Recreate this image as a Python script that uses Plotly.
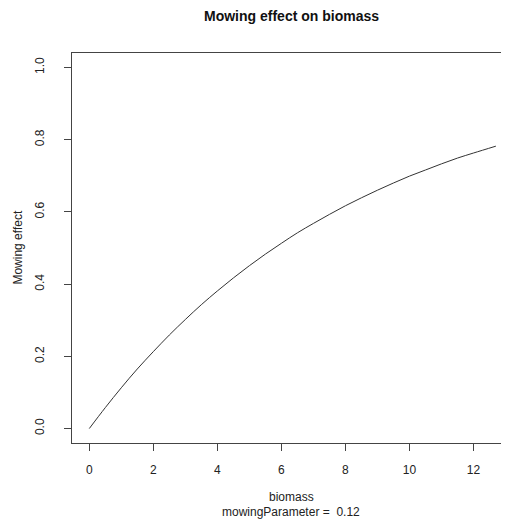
"""
Mowing effect on biomass - line chart
"""

import plotly.graph_objects as go

# values
biomass = [0, 0.5, 1, 1.5, 2, 2.5, 3, 3.5, 4, 4.5, 5, 5.5, 6, 6.5, 7, 7.5,
           8, 8.5, 9, 9.5, 10, 10.5, 11, 11.5, 12, 12.7]
mowing_effect = [0.0, 0.058, 0.113, 0.165, 0.213, 0.259, 0.302, 0.343, 0.381,
                 0.417, 0.451, 0.483, 0.513, 0.542, 0.568, 0.593, 0.617,
                 0.639, 0.660, 0.680, 0.699, 0.716, 0.733, 0.749, 0.763, 0.782]
x_ticks = [0, 2, 4, 6, 8, 10, 12]
y_ticks = [0.0, 0.2, 0.4, 0.6, 0.8, 1.0]

title = "Mowing effect on biomass"
x_label = "biomass"
sub_label = "mowingParameter =  0.12"
y_label = "Mowing effect"

font_family = "Liberation Sans, Arial, Helvetica, sans-serif"
axis_col = "#444444"

# the page body has an 8px margin, so the figure is shrunk by that much
fig = go.Figure()

fig.add_trace(go.Scatter(
    x=biomass,
    y=mowing_effect,
    mode="lines",
    line=dict(color="#333333", width=1, shape="spline"),
    showlegend=False,
    hoverinfo="skip"
))

fig.update_layout(
    width=501,
    height=516,
    margin=dict(l=63.5, r=0, t=45, b=81),
    paper_bgcolor="white",
    plot_bgcolor="white",
    font=dict(family=font_family, size=12, color="#222222"),
    showlegend=False
)

fig.update_xaxes(
    range=[-0.54, 13.11],
    tickvals=x_ticks,
    ticktext=[str(t) for t in x_ticks],
    ticks="outside",
    ticklen=7,
    tickwidth=1,
    tickcolor=axis_col,
    ticklabelstandoff=9,
    showline=True,
    linecolor=axis_col,
    linewidth=1,
    mirror=True,
    showgrid=False,
    zeroline=False,
    tickfont=dict(size=12)
)

fig.update_yaxes(
    range=[-0.04, 1.04],
    tickvals=y_ticks,
    ticktext=["%.1f" % t for t in y_ticks],
    tickangle=-90,
    ticks="outside",
    ticklen=7,
    tickwidth=1,
    tickcolor=axis_col,
    ticklabelstandoff=15,
    showline=True,
    linecolor=axis_col,
    linewidth=1,
    mirror=False,
    showgrid=False,
    zeroline=False,
    tickfont=dict(size=12)
)

# title and axis labels placed in R base-graphics style (paper coords)
cx = (291 - 71.5) / 437.5
fig.add_annotation(text="<b>%s</b>" % title, xref="paper", yref="paper",
                   x=cx, y=(443 - 16) / 390,
                   xanchor="center", yanchor="middle", showarrow=False,
                   font=dict(size=14, color="#111111"))
fig.add_annotation(text=x_label, xref="paper", yref="paper",
                   x=cx, y=-(497 - 443) / 390,
                   xanchor="center", yanchor="middle", showarrow=False,
                   font=dict(size=12))
fig.add_annotation(text=sub_label, xref="paper", yref="paper",
                   x=cx, y=-(512 - 443) / 390,
                   xanchor="center", yanchor="middle", showarrow=False,
                   font=dict(size=12))
fig.add_annotation(text=y_label, xref="paper", yref="paper",
                   x=-(71.5 - 17) / 437.5, y=(443 - 248) / 390,
                   xanchor="center", yanchor="middle", textangle=-90,
                   showarrow=False, font=dict(size=12))

fig.write_html("out.html")
